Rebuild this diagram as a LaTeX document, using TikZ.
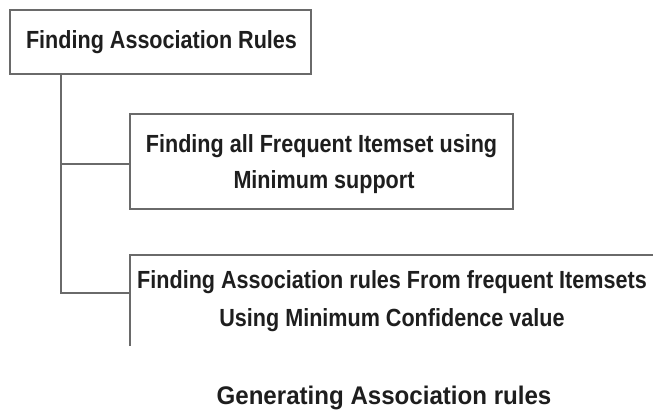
\documentclass[tikz,border=0pt]{standalone}
\usepackage{fontspec}
\setmainfont{Liberation Sans}
\newfontfamily\boxfont[FakeStretch=0.87]{Liberation Sans}
\newfontfamily\capfont[FakeStretch=0.945]{Liberation Sans}
\definecolor{linegray}{HTML}{6A6A6A}
\definecolor{ink}{HTML}{1E1E1E}
\begin{document}
\begin{tikzpicture}[x=1pt,y=-1pt,
  box/.style={draw=linegray, line width=1.1pt, inner sep=0pt, outer sep=0pt},
  frame/.style={inner sep=0pt, outer sep=0pt},
  conn/.style={draw=linegray, line width=1.1pt},
  boxtext/.style={font=\boxfont\bfseries\fontsize{24.8}{28}\selectfont, text=ink, anchor=base, inner sep=0pt},
  captext/.style={font=\capfont\bfseries\fontsize{25.5}{30}\selectfont, text=ink, anchor=base, inner sep=0pt}]
\useasboundingbox (0,0) rectangle (653,414);
% boxes
\node[box, minimum width=301pt, minimum height=64pt] (b1) at (160.5,42) {};
\node[box, minimum width=383pt, minimum height=95pt] (b2) at (321.5,161.5) {};
\node[frame, minimum width=523pt, minimum height=91pt] (b3) at (391.5,300.5) {};
\draw[conn] (b3.south west) -- (b3.north west) -- (b3.north east);
% texts
\node[boxtext] (t1) at (161.5,49) {Finding Association Rules};
\node[boxtext] (t2a) at (321.5,152.5) {Finding all Frequent Itemset using};
\node[boxtext] (t2b) at (324,189) {Minimum support};
\node[boxtext] (t3a) at (392,288) {Finding Association rules From frequent Itemsets};
\node[boxtext] (t3b) at (392,326) {Using Minimum Confidence value};
\node[captext] (cap) at (384,404.5) {Generating Association rules};
% connectors
\coordinate (trunk) at (61,74);
\coordinate (mid) at (61,164);
\coordinate (end) at (61,293);
\draw[conn] (trunk) -- (end) -- (end -| b3.west);
\draw[conn] (mid) -- (mid -| b2.west);
\end{tikzpicture}
\end{document}
